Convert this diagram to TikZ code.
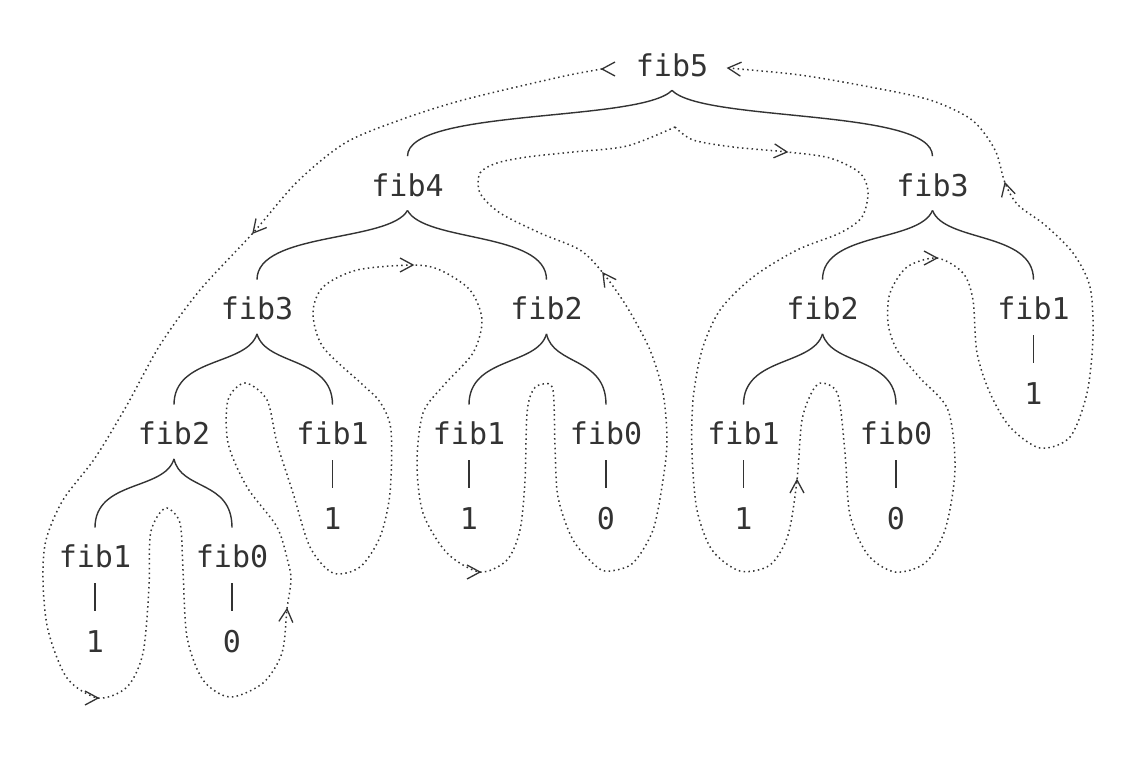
\documentclass[tikz,border=0pt]{standalone}
\usepackage{fontspec}
\setmonofont{DejaVu Sans Mono}
\definecolor{ink}{HTML}{333333}
\begin{document}
\begin{tikzpicture}[x=1pt,y=-1pt,
  lbl/.style={inner sep=0pt, text=ink, font=\fontsize{30}{36}\selectfont\ttfamily},
  br/.style={draw=ink, line width=1.4pt},
  trail/.style={draw=ink, line width=1.5pt, dash pattern=on 1.5pt off 3.3pt},
  chev/.pic={\draw[ink, line width=1.3pt] (-13,-7) -- (0,0) -- (-13,7);}
]
\useasboundingbox (0,0) rectangle (1126,756);
% nodes
\node[lbl] (f5)  at (672,65)    {fib5};
\node[lbl] (f4)  at (407.5,185) {fib4};
\node[lbl] (f3r) at (932.5,185) {fib3};
\node[lbl] (f3l) at (257,308.5) {fib3};
\node[lbl] (f2m) at (546.5,308.5) {fib2};
\node[lbl] (f2r) at (822.5,308.5) {fib2};
\node[lbl] (f1r) at (1033.5,308.5) {fib1};
\node[lbl] (f2l) at (174,433.5) {fib2};
\node[lbl] (f1a) at (332.5,433.5) {fib1};
\node[lbl] (f1b) at (469,433.5) {fib1};
\node[lbl] (f0a) at (606,433.5) {fib0};
\node[lbl] (f1c) at (743.5,433.5) {fib1};
\node[lbl] (f0b) at (896,433.5) {fib0};
\node[lbl] (f1d) at (95,556.5) {fib1};
\node[lbl] (f0c) at (232,556.5) {fib0};
% values
\node[lbl] (v1r) at (1033.5,393.5) {1};
\node[lbl] (v1a) at (332.5,518.5) {1};
\node[lbl] (v1b) at (469,518.5) {1};
\node[lbl] (v0a) at (606,518.5) {0};
\node[lbl] (v1c) at (743.5,518.5) {1};
\node[lbl] (v0b) at (896,518.5) {0};
\node[lbl] (v1d) at (95,641.5) {1};
\node[lbl] (v0c) at (232,641.5) {0};
% value bars
\foreach \a/\b in {f1r/v1r,f1a/v1a,f1b/v1b,f0a/v0a,f1c/v1c,f0b/v0b,f1d/v1d,f0c/v0c}
  \draw[br] ([yshift=-15pt]\a.south) -- ([yshift=19pt]\b.north);
% branches
\foreach \p/\c/\w in {f5/f4/32,f4/f3l/18,f3l/f2l/10,f2l/f1d/9.5,f3r/f2r/13,f2m/f1b/9,f2r/f1c/9.5}
  \draw[br] ([yshift=-13.6pt]\p.south) .. controls +(-\w,32) and +(0,-48) .. ([yshift=17pt]\c.north);
\foreach \p/\c/\w in {f5/f3r/31,f4/f2m/17,f3l/f1a/9,f2l/f0c/7,f3r/f1r/12,f2m/f0a/7,f2r/f0b/9}
  \draw[br] ([yshift=-13.6pt]\p.south) .. controls +(\w,32) and +(0,-48) .. ([yshift=17pt]\c.north);
% traversal trail
\draw[trail] plot[smooth] coordinates {
 (602,69) (560,77) (463,100) (400,120) (345,143) (297,182) (253,233) (200,290) (160,345)
 (127,405) (95,458) (63,500) (46,540) (43,580) (48,630) (67,678) (98,698)
 (127,687) (143,653) (149,587) (150,537) (157,517) (167,508) (180,523) (183,570) (187,637)
 (203,680) (230,697) (263,683) (282,653) (287,609) (291,580) (288,562) (277,527) (247,487)
 (228,443) (228,400) (245,383) (267,400) (277,443) (293,493) (310,547) (333,573) (360,567)
 (380,537) (390,493) (391,430) (380,402) (363,385) (323,347) (313,313) (323,287) (357,270)
 (413,265) (440,270) (470,290) (482,320) (473,353) (444,385) (423,413) (417,463) (423,513)
 (447,553) (480,572) (507,560) (520,530) (525,480) (527,413) (533,390) (543,384) (553,390)
 (555,447) (558,497) (573,540) (597,567) (610,571) (633,563) (653,530) (663,480) (667,440)
 (663,393) (650,350) (627,307) (603,273) (580,250) (540,233) (500,213) (480,193) (480,173)
 (497,163) (527,157) (573,152) (627,146) (675,127)};
\draw[trail] plot[smooth] coordinates {
 (675,127) (693,140) (733,147) (787,152) (830,158) (860,173) (868,192) (862,217) (840,233)
 (797,250) (753,277) (720,310) (702,350) (693,400) (692,453) (697,510) (712,550) (740,571)
 (770,565) (788,535) (797,480) (802,420) (813,390) (823,383) (838,395) (845,453) (850,515)
 (868,555) (895,572) (925,563) (945,530) (955,470) (948,410) (920,378) (897,350) (888,323)
 (890,293) (907,267) (937,258) (963,273) (973,300) (977,353) (990,393) (1010,427) (1040,448)
 (1070,437) (1087,393) (1093,337) (1090,287) (1073,253) (1045,225) (1018,205) (1005,183)
 (995,150) (972,120) (930,100) (870,87) (800,75) (728,68)};
% direction marks
\pic[rotate=180] at (602,69) {chev};
\pic[rotate=230] at (253,233) {chev};
\pic at (98,698) {chev};
\pic[rotate=85] at (287,609) {chev};
\pic at (413,265) {chev};
\pic at (480,572) {chev};
\pic[rotate=125] at (603,273) {chev};
\pic[rotate=-5] at (787,152) {chev};
\pic[rotate=90] at (797,480) {chev};
\pic at (937,258) {chev};
\pic[rotate=105] at (1005,183) {chev};
\pic[rotate=175] at (728,68) {chev};
\end{tikzpicture}
\end{document}
